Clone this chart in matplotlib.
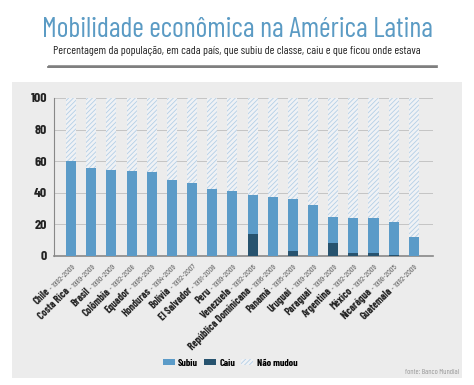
import numpy as np
import matplotlib
matplotlib.use("Agg")
import matplotlib.pyplot as plt
from matplotlib.patches import Patch, Rectangle
from matplotlib.lines import Line2D
from matplotlib.font_manager import FontProperties
from matplotlib.textpath import TextToPath

countries = ["Chile", "Costa Rica", "Brasil", "Colômbia", "Equador", "Honduras",
             "Bolívia", "El Salvador", "Peru", "Venezuela", "República Dominicana",
             "Panamá", "Uruguai", "Paraguai", "Argentina", "México", "Nicarágua",
             "Guatemala"]
periods = ["1992-2009", "1989-2009", "1990-2009", "1992-2008", "1995-2009", "1994-2009",
           "1992-2007", "1991-2008", "1999-2009", "1992-2006", "1996-2009", "1995-2009",
           "1989-2009", "1999-2009", "1992-2009", "1992-2009", "1998-2005", "1992-2009"]
caiu = [0, 0, 0, 0, 0, 0, 0, 0, 0, 14.2, 0, 3.0, 0, 8.1, 1.7, 1.7, 0.6, 0]
subiu = [60.4, 55.9, 54.4, 53.6, 53.0, 48.1, 46.2, 42.2, 41.3, 24.2, 37.3, 33.0,
         32.0, 16.7, 22.5, 22.5, 21.0, 11.9]
yticks = [0, 20, 40, 60, 80, 100]

C_SUBIU = "#5b9bc8"
C_CAIU = "#27536f"
C_HATCH = "#b4cfe6"
C_TITLE = "#5b9bc4"
FONT = ["Barlow Condensed", "DejaVu Sans"]

plt.rcParams["font.family"] = FONT
plt.rcParams["hatch.linewidth"] = 0.6

caiu = np.array(caiu)
subiu = np.array(subiu)
nao = 100 - caiu - subiu
x = np.arange(len(countries))

fig = plt.figure(figsize=(4.74, 3.85), dpi=100)
fig.patch.set_facecolor("white")

# grey panel behind the chart
fig.patches.append(Rectangle((12 / 474, 1 - 378 / 385), 450 / 474, 296 / 385,
                             transform=fig.transFigure, facecolor="#ececec",
                             edgecolor="none", zorder=-10))

fig.text(0.5, 1 - 37 / 385, "Mobilidade econômica na América Latina", ha="center",
         va="baseline", fontsize=20.3, color=C_TITLE)
fig.text(0.5, 1 - 54 / 385,
         "Percentagem da população, em cada país, que subiu de classe, caiu e que ficou onde estava",
         ha="center", va="baseline", fontsize=8.4, color="#222222")
fig.lines.append(Line2D([48 / 474, 437 / 474], [1 - 64.5 / 385] * 2, transform=fig.transFigure,
                        color="#888888", lw=0.6))
fig.lines.append(Line2D([48 / 474, 437 / 474], [1 - 66.5 / 385] * 2, transform=fig.transFigure,
                        color="#666666", lw=1.2))

ax = fig.add_axes([54 / 474, 1 - 256 / 385, 379 / 474, 158 / 385])
ax.set_facecolor("none")

ax.bar(x, caiu, width=0.5, color=C_CAIU, zorder=3)
ax.bar(x, subiu, width=0.5, bottom=caiu, color=C_SUBIU, zorder=3)
ax.bar(x, nao, width=0.5, bottom=caiu + subiu, facecolor="#f0f2f5", edgecolor=C_HATCH,
       linewidth=0, hatch="///////", zorder=3)

ax.set_xlim(-0.85, len(countries) - 0.05)
ax.set_ylim(0, 100)
ax.set_yticks(yticks)
ax.set_yticklabels([str(v) for v in yticks], fontsize=10, fontweight="bold", color="#222222")
ax.tick_params(axis="y", length=0, pad=5)
ax.set_xticks([])
ax.grid(axis="y", color="#c4c4c4", lw=0.7, zorder=0)
for s in ["top", "right"]:
    ax.spines[s].set_visible(False)
ax.spines["left"].set_color("#888888")
ax.spines["bottom"].set_color("#888888")
ax.spines["left"].set_linewidth(0.8)
ax.spines["bottom"].set_linewidth(1.2)

# two-part rotated labels: bold country name, lighter period
ang = np.deg2rad(45)
fp_year = FontProperties(family=FONT, size=6)
ttp = TextToPath()
for i, (c, p) in enumerate(zip(countries, periods)):
    ytxt = " - " + p
    w, _, _ = ttp.get_text_width_height_descent(ytxt, fp_year, ismath=False)
    bx, by = 3, -8
    ax.annotate(ytxt, xy=(i, 0), xycoords=("data", "axes fraction"),
                xytext=(bx, by), textcoords="offset points", rotation=45,
                rotation_mode="anchor", ha="right", va="baseline",
                fontproperties=fp_year, color="#555555", annotation_clip=False)
    ax.annotate(c, xy=(i, 0), xycoords=("data", "axes fraction"),
                xytext=(bx - w * np.cos(ang), by - w * np.sin(ang)),
                textcoords="offset points", rotation=45, rotation_mode="anchor",
                ha="right", va="baseline", fontsize=7.5, fontweight="bold",
                color="#222222", annotation_clip=False)

handles = [Patch(facecolor=C_SUBIU, label="Subiu"),
           Patch(facecolor=C_CAIU, label="Caiu"),
           Patch(facecolor="#f0f2f5", edgecolor=C_HATCH, linewidth=0, hatch="///////",
                 label="Não mudou")]
fig.legend(handles=handles, loc="center", bbox_to_anchor=(230 / 474, 1 - 363 / 385),
           ncol=3, frameon=False, handlelength=1.2, handleheight=0.55, handletextpad=0.35,
           columnspacing=0.6, prop={"family": FONT, "size": 7.2, "weight": "bold"})

fig.text(459 / 474, 1 - 373 / 385, "fonte: Banco Mundial", ha="right", va="center",
         fontsize=5.5, color="#999999")

fig.savefig("out.png", dpi=100, facecolor=fig.get_facecolor())
